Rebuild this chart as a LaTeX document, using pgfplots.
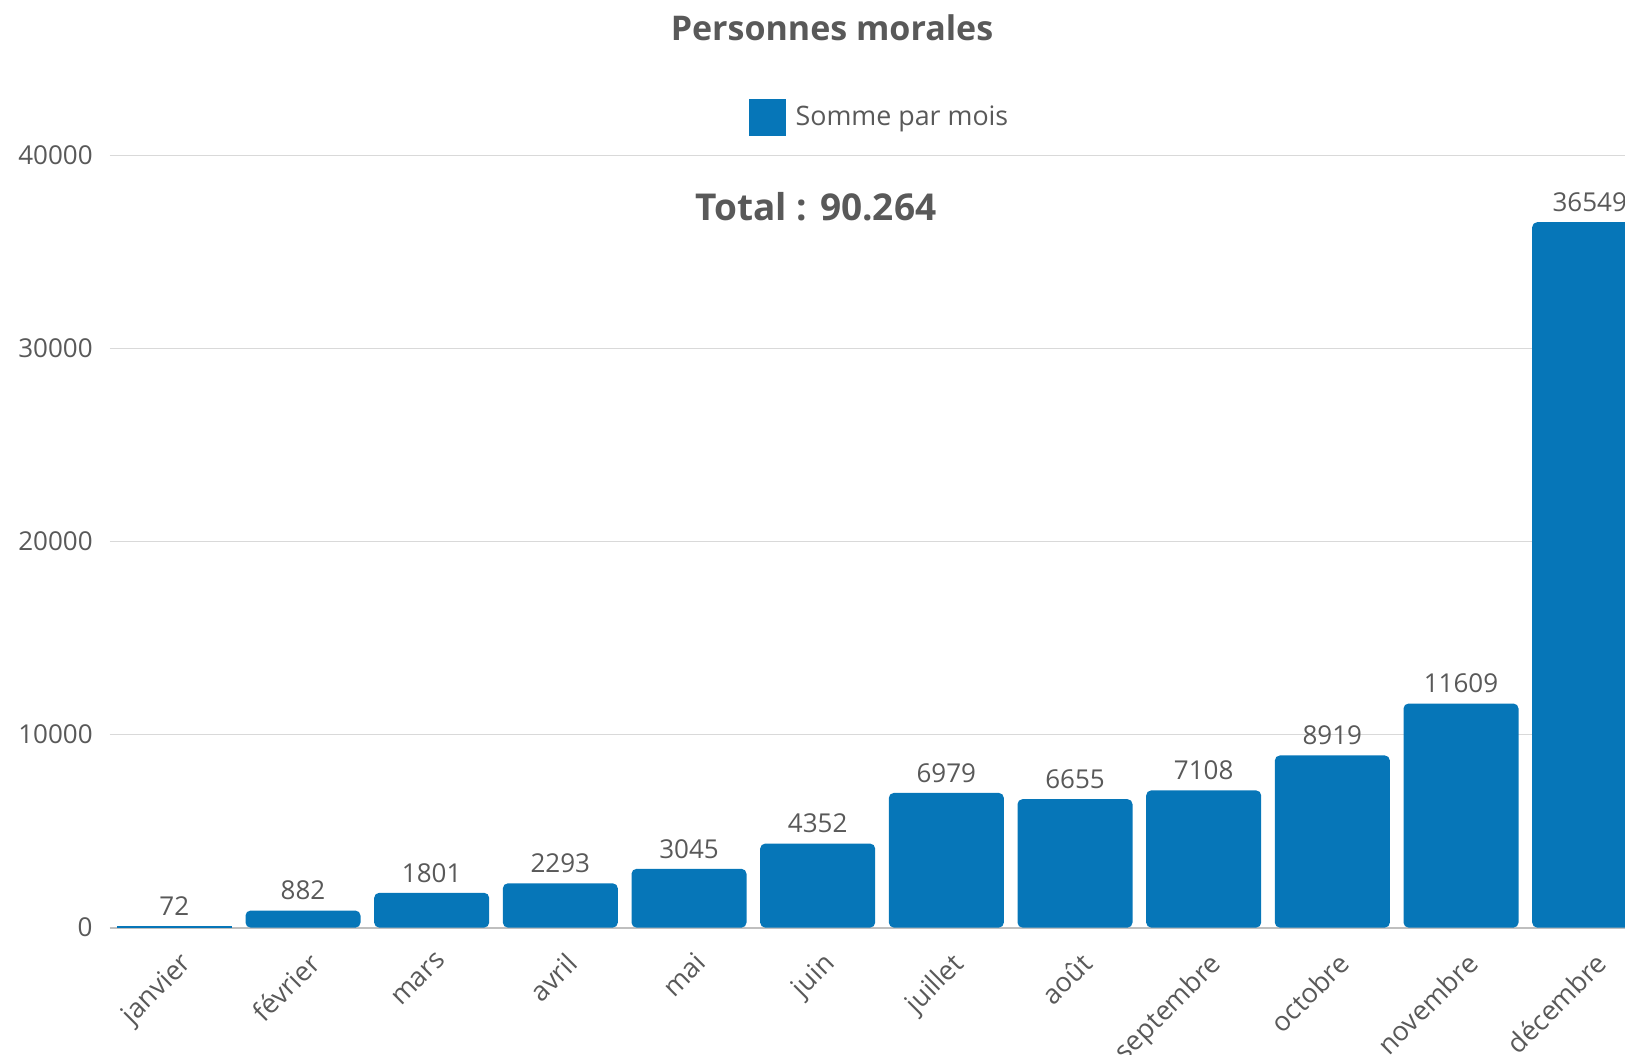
\documentclass[border=0pt]{standalone}
\usepackage{pgfplots}
\pgfplotsset{compat=1.18}
\usepackage{fontspec}
\setmainfont{Open Sans}

\definecolor{barblue}{HTML}{0676B8}
\definecolor{txtgrey}{HTML}{595959}
\definecolor{gridgrey}{HTML}{D9D9D9}
\definecolor{axisgrey}{HTML}{BFBFBF}

\begin{document}
\begin{tikzpicture}
% the reference is cropped on the right and at the bottom
\path[use as bounding box, clip] (0,0) rectangle (812.5pt,527pt);

\begin{axis}[
	at={(55pt,63.2pt)}, anchor=south west,
	scale only axis, width=772pt, height=386pt,
	xmin=-0.5, xmax=11.5, ymin=0, ymax=40000,
	ybar, bar width=57.5pt, bar shift=0pt,
	axis x line*=bottom, axis y line*=left,
	x axis line style={draw=axisgrey, line width=1pt},
	y axis line style={draw=none},
	major tick length=0pt,
	ymajorgrids, grid style={draw=gridgrey, line width=0.8pt},
	xtick={0,...,11},
	xticklabels={janvier,février,mars,avril,mai,juin,juillet,août,septembre,octobre,novembre,décembre},
	ytick={0,10000,20000,30000,40000},
	yticklabels={0,10000,20000,30000,40000},
	scaled y ticks=false,
	tick label style={font=\fontsize{13}{15}\selectfont, text=txtgrey},
	% shifts are in the rotated frame
	xticklabel style={font=\fontsize{13.5}{15}\selectfont, rotate=45, anchor=north east,
		inner sep=0pt, xshift=-6.6pt, yshift=-9.6pt},
	yticklabel style={anchor=east, inner sep=0pt, xshift=-8.5pt},
	point meta=explicit symbolic,
	nodes near coords={\pgfplotspointmeta},
	every node near coord/.append style={font=\fontsize{13}{15}\selectfont, text=txtgrey, inner sep=0pt, yshift=5pt},
	legend style={at={(0.499,1.0495)}, anchor=center, draw=none, fill=none,
		font=\fontsize{13.4}{16}\selectfont, text=txtgrey},
	legend image code/.code={\fill[barblue, sharp corners] (0pt,-9.5pt) rectangle (18.5pt,9pt);
		\path (21.5pt,0pt);},
]

% janvier is too low for rounded corners
\addplot[fill=barblue, draw=none]
	coordinates {(0,72)[72]};

\addplot[fill=barblue, draw=none, rounded corners=2.5pt]
	coordinates {(1,882)[882] (2,1801)[1801] (3,2293)[2293]
		(4,3045)[3045] (5,4352)[4352] (6,6979)[6979] (7,6655)[6655]
		(8,7108)[7108] (9,8919)[8919] (10,11609)[11609] (11,36549)[36549]};

\legend{Somme par mois};
\end{axis}

\node[text=txtgrey, font=\fontsize{17}{20}\selectfont\bfseries] at (416pt,513pt) {Personnes morales};
\node[text=txtgrey, font=\fontsize{18.5}{22}\selectfont\bfseries] at (408pt,423.5pt) {Total : 90.264};
\end{tikzpicture}
\end{document}
